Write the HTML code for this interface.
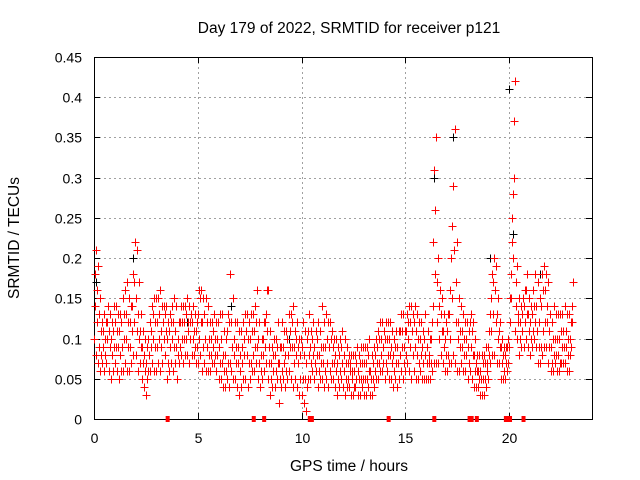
<!DOCTYPE html>
<html><head><meta charset="utf-8"><style>
html,body{margin:0;padding:0;background:#fff;}
svg{display:block;font-family:"Liberation Sans",sans-serif;}
</style></head><body>
<svg id="chart" width="640" height="480" viewBox="0 0 640 480">
<rect width="640" height="480" fill="#fff"/>
<g id="grid"></g>
<g id="axes"></g>
<g id="marks"></g>
<text x="349" y="33" font-size="15.5" text-anchor="middle" fill="#000">Day 179 of 2022, SRMTID for receiver p121</text>
<text x="349" y="471" font-size="15.5" text-anchor="middle" fill="#000">GPS time / hours</text>
<text x="19" y="238" font-size="15.5" text-anchor="middle" fill="#000" transform="rotate(-90 19 238)">SRMTID / TECUs</text>
</svg>
<script>
const xTicks=[0,5,10,15,20];
const yTicks=[0,0.05,0.1,0.15,0.2,0.25,0.3,0.35,0.4,0.45];
const yTickLabels=["0","0.05","0.1","0.15","0.2","0.25","0.3","0.35","0.4","0.45"];
const tStart=0, tStep=0.1;
const seriesA=[.10,.08,.07,.06,.07,.06,.07,.06,.05,.06, .07,.06,.05,.06,.06,.07,.06,.06,.07,.08, .08,.06,.07,.05,.04,.03,.06,.06,.07,.06, .06,.07,.06,.07,.08,.05,.06,.07,.06,.07, .05,.07,.08,.07,.08,.08,.07,.08,.08,.07, .07,.08,.06,.07,.06,.06,.06,.07,.07,.06, .05,.05,.04,.04,.05,.04,.06,.05,.05,.04, .03,.04,.05,.05,.04,.05,.06,.06,.07,.05, .04,.05,.06,.07,.05,.03,.04,.04,.05,.02, .04,.05,.04,.05,.06,.05,.04,.05,.04,.03, .03,.02,.01,.05,.05,.06,.05,.06,.04,.05, .05,.04,.05,.04,.05,.05,.04,.03,.04,.05, .04,.03,.04,.04,.03,.03,.04,.03,.03,.04, .03,.03,.04,.03,.03,.04,.05,.05,.06,.06, .05,.06,.05,.05,.04,.05,.04,.05,.06,.05, .06,.07,.06,.05,.06,.05,.05,.06,.05,.05, .05,.05,.05,.06,.07,.07,.07,.08,.07,.06, .06,.07,.07,.08,.07,.06,.06,.07,.06,.06, .05,.06,.05,.04,.04,.04,.03,.03,.03,.04, .05,.07,.08,.08,.07,.07,.05,.05,.05,.06, .09,.15,.20,.11,.10,.08,.09,.09,.10,.09, .08,.09,.10,.09,.07,.07,.08,.09,.09,.07, .06,.06,.07,.06,.06,.07,.07,.07,.06,.06, .09];
const seriesB=[.14,.12,.09,.08,.09,.08,.10,.09,.08,.09, .09,.09,.08,.09,.10,.10,.09,.09,.11,.12, .11,.10,.09,.07,.06,.05,.08,.09,.10,.09, .09,.10,.09,.10,.11,.07,.09,.10,.09,.09, .08,.09,.10,.10,.10,.11,.10,.10,.09,.09, .10,.12,.09,.10,.09,.08,.08,.09,.08,.08, .07,.07,.06,.06,.07,.07,.09,.08,.07,.07, .06,.07,.08,.08,.07,.07,.08,.09,.09,.07, .06,.08,.09,.11,.07,.05,.06,.06,.07,.05, .06,.07,.06,.08,.09,.09,.07,.08,.07,.05, .05,.05,.04,.08,.07,.08,.07,.08,.06,.07, .07,.06,.07,.06,.07,.07,.06,.05,.06,.07, .06,.05,.05,.06,.05,.04,.05,.05,.05,.05, .05,.05,.06,.05,.05,.06,.07,.07,.08,.07, .07,.08,.08,.07,.06,.07,.07,.08,.09,.07, .08,.10,.09,.08,.09,.08,.07,.08,.07,.08, .07,.07,.07,.14,.18,.12,.10,.11,.09,.08, .08,.10,.15,.21,.12,.10,.09,.09,.08,.08, .07,.09,.08,.06,.06,.05,.05,.05,.05,.06, .08,.11,.13,.12,.10,.09,.07,.06,.07,.07, .12,.22,.30,.14,.12,.10,.11,.12,.13,.11, .10,.11,.12,.11,.09,.09,.11,.12,.12,.09, .07,.08,.08,.08,.07,.09,.09,.09,.08,.08, .12];
const seriesC=[.18,.16,.13,.11,.11,.10,.12,.11,.10,.11, .12,.11,.11,.12,.13,.13,.12,.12,.14,.17, .15,.13,.11,.09,.08,.07,.10,.11,.13,.12, .12,.13,.11,.12,.13,.10,.11,.12,.12,.11, .10,.12,.12,.12,.13,.12,.12,.12,.11,.11, .13,.15,.12,.13,.12,.10,.10,.11,.10,.10, .09,.10,.08,.08,.11,.12,.12,.10,.09,.09, .08,.09,.10,.11,.10,.10,.11,.11,.12,.10, .08,.10,.12,.16,.09,.07,.08,.08,.09,.07, .09,.09,.08,.10,.11,.12,.09,.10,.09,.08, .09,.08,.07,.11,.09,.10,.09,.10,.08,.09, .09,.09,.10,.09,.10,.09,.08,.07,.08,.09, .08,.07,.07,.07,.06,.06,.07,.06,.07,.07, .07,.07,.08,.06,.07,.08,.09,.10,.10,.09, .10,.10,.10,.09,.08,.09,.09,.11,.11,.09, .11,.12,.12,.11,.12,.11,.10,.10,.09,.10, .09,.08,.10,.22,.26,.17,.14,.13,.11,.10, .11,.13,.20,.29,.17,.12,.11,.11,.10,.10, .09,.12,.11,.08,.07,.06,.06,.07,.07,.07, .11,.15,.17,.16,.13,.11,.09,.08,.08,.09, .15,.25,.37,.17,.13,.12,.13,.14,.16,.13, .12,.13,.14,.14,.12,.14,.16,.16,.14,.11, .09,.10,.10,.10,.10,.11,.11,.11,.10,.10, .14];
const seriesD=[.21,.19,.15,.12,.13,.12,.14,.13,.12,.14, .14,.13,.13,.15,.16,.17,.15,.14,.18,.22, .21,.17,.13,.11,.10,.09,.12,.14,.15,.15, .15,.16,.14,.14,.14,.12,.13,.14,.15,.14, .12,.14,.14,.14,.15,.14,.13,.14,.13,.12, .16,.16,.15,.15,.14,.12,.12,.13,.12,.12, .13,.13,.11,.10,.13,.18,.15,.12,.12,.11, .11,.12,.13,.13,.12,.13,.13,.14,.16,.12, .10,.12,.13,.16,.11,.09,.10,.10,.12,.09, .12,.11,.11,.13,.13,.14,.11,.12,.10,.10, .12,.11,.10,.13,.11,.12,.11,.12,.11,.14, .12,.13,.12,.12,.11,.10,.10,.09,.10,.11, .10,.09,.08,.08,.08,.08,.09,.08,.09,.09, .09,.09,.10,.08,.09,.10,.11,.12,.12,.11, .12,.12,.12,.11,.10,.11,.11,.13,.13,.11, .13,.14,.14,.13,.14,.13,.12,.12,.11,.13, .11,.10,.12,.31,.35,.20,.16,.15,.13,.12, .13,.16,.24,.36,.22,.15,.14,.13,.12,.12, .11,.13,.12,.10,.08,.08,.08,.08,.09,.09, .13,.18,.20,.19,.15,.12,.10,.09,.09,.10, .18,.28,.42,.19,.15,.14,.15,.16,.18,.15, .14,.16,.18,.17,.15,.18,.19,.18,.17,.13, .12,.14,.13,.13,.13,.13,.14,.13,.13,.12, .17];
const blackTimes=[0.1,1.9,4.5,6.6,9.4,16.4,17.3,19.1,20.0,20.2,21.5];
const blackValues=[0.17,0.2,0.12,0.14,0.1,0.3,0.35,0.2,0.41,0.23,0.18];
const zeroTimes=[3.55,7.7,8.2,10.4,10.5,14.2,16.4,18.1,18.2,18.45,19.85,19.95,20.05,20.7];

const L=94,R=592,T=57,B=419,XMAX=24,YMAX=0.45;
const xs=v=>L+(v/XMAX)*(R-L);
const ys=v=>B-(v/YMAX)*(B-T);
const NS="http://www.w3.org/2000/svg";
function mk(tag,attrs,parent){const e=document.createElementNS(NS,tag);for(const k in attrs)e.setAttribute(k,attrs[k]);parent.appendChild(e);return e;}
const grid=document.getElementById('grid'),axes=document.getElementById('axes'),marks=document.getElementById('marks');
yTicks.forEach((v,i)=>{
  const y=Math.round(ys(v))+0.5;
  if(i>0&&i<yTicks.length-1){const g=mk('line',{x1:L,x2:R,y1:y,y2:y,stroke:'#a0a0a0','stroke-dasharray':'2,3','stroke-width':1},grid);
  
  }
  const t1=mk('path',{d:`M${L} ${y}h6M${R} ${y}h-6`,stroke:'#000'},axes);
  
  
  const tx=mk('text',{x:82,y:y+5,'font-size':14,'text-anchor':'end'},axes);tx.textContent=yTickLabels[i];
  
  
});
xTicks.forEach(v=>{
  const x=Math.round(xs(v))+0.5;
  if(v>0){const g=mk('line',{x1:x,x2:x,y1:T,y2:B,stroke:'#a0a0a0','stroke-dasharray':'2,3','stroke-width':1},grid);
  
  }
  const t1=mk('path',{d:`M${x} ${B}v-6M${x} ${T}v6`,stroke:'#000'},axes);
  
  
  const tx=mk('text',{x:x,y:443,'font-size':14,'text-anchor':'middle'},axes);tx.textContent=String(v);
  
  
});
const frame=mk('rect',{x:L+0.5,y:T+0.5,width:R-L,height:B-T,fill:'none',stroke:'#000'},axes);


function plus(t,v,color,name){
  const x=Math.round(xs(t))+0.5,y=Math.round(ys(v))+0.5;
  const p=mk('path',{d:`M${x-4} ${y}h8M${x} ${y-4}v8`,stroke:color,'stroke-width':1,'shape-rendering':'crispEdges'},marks);
  
  
}
blackTimes.forEach((t,i)=>plus(t,blackValues[i],'#000','black-point'));
const offs=[0,0.05,0.025,0.075];
[seriesA,seriesB,seriesC,seriesD].forEach((s,k)=>{
  s.forEach((v,i)=>plus(tStart+i*tStep+offs[k],v,'#f00','srmtid-point'));
});
zeroTimes.forEach(t=>{
  const x=xs(t);
  const r=mk('rect',{x:x-2,y:B-3,width:4,height:6,fill:'#f00'},marks);
  
  
});
</script>
</body></html>
